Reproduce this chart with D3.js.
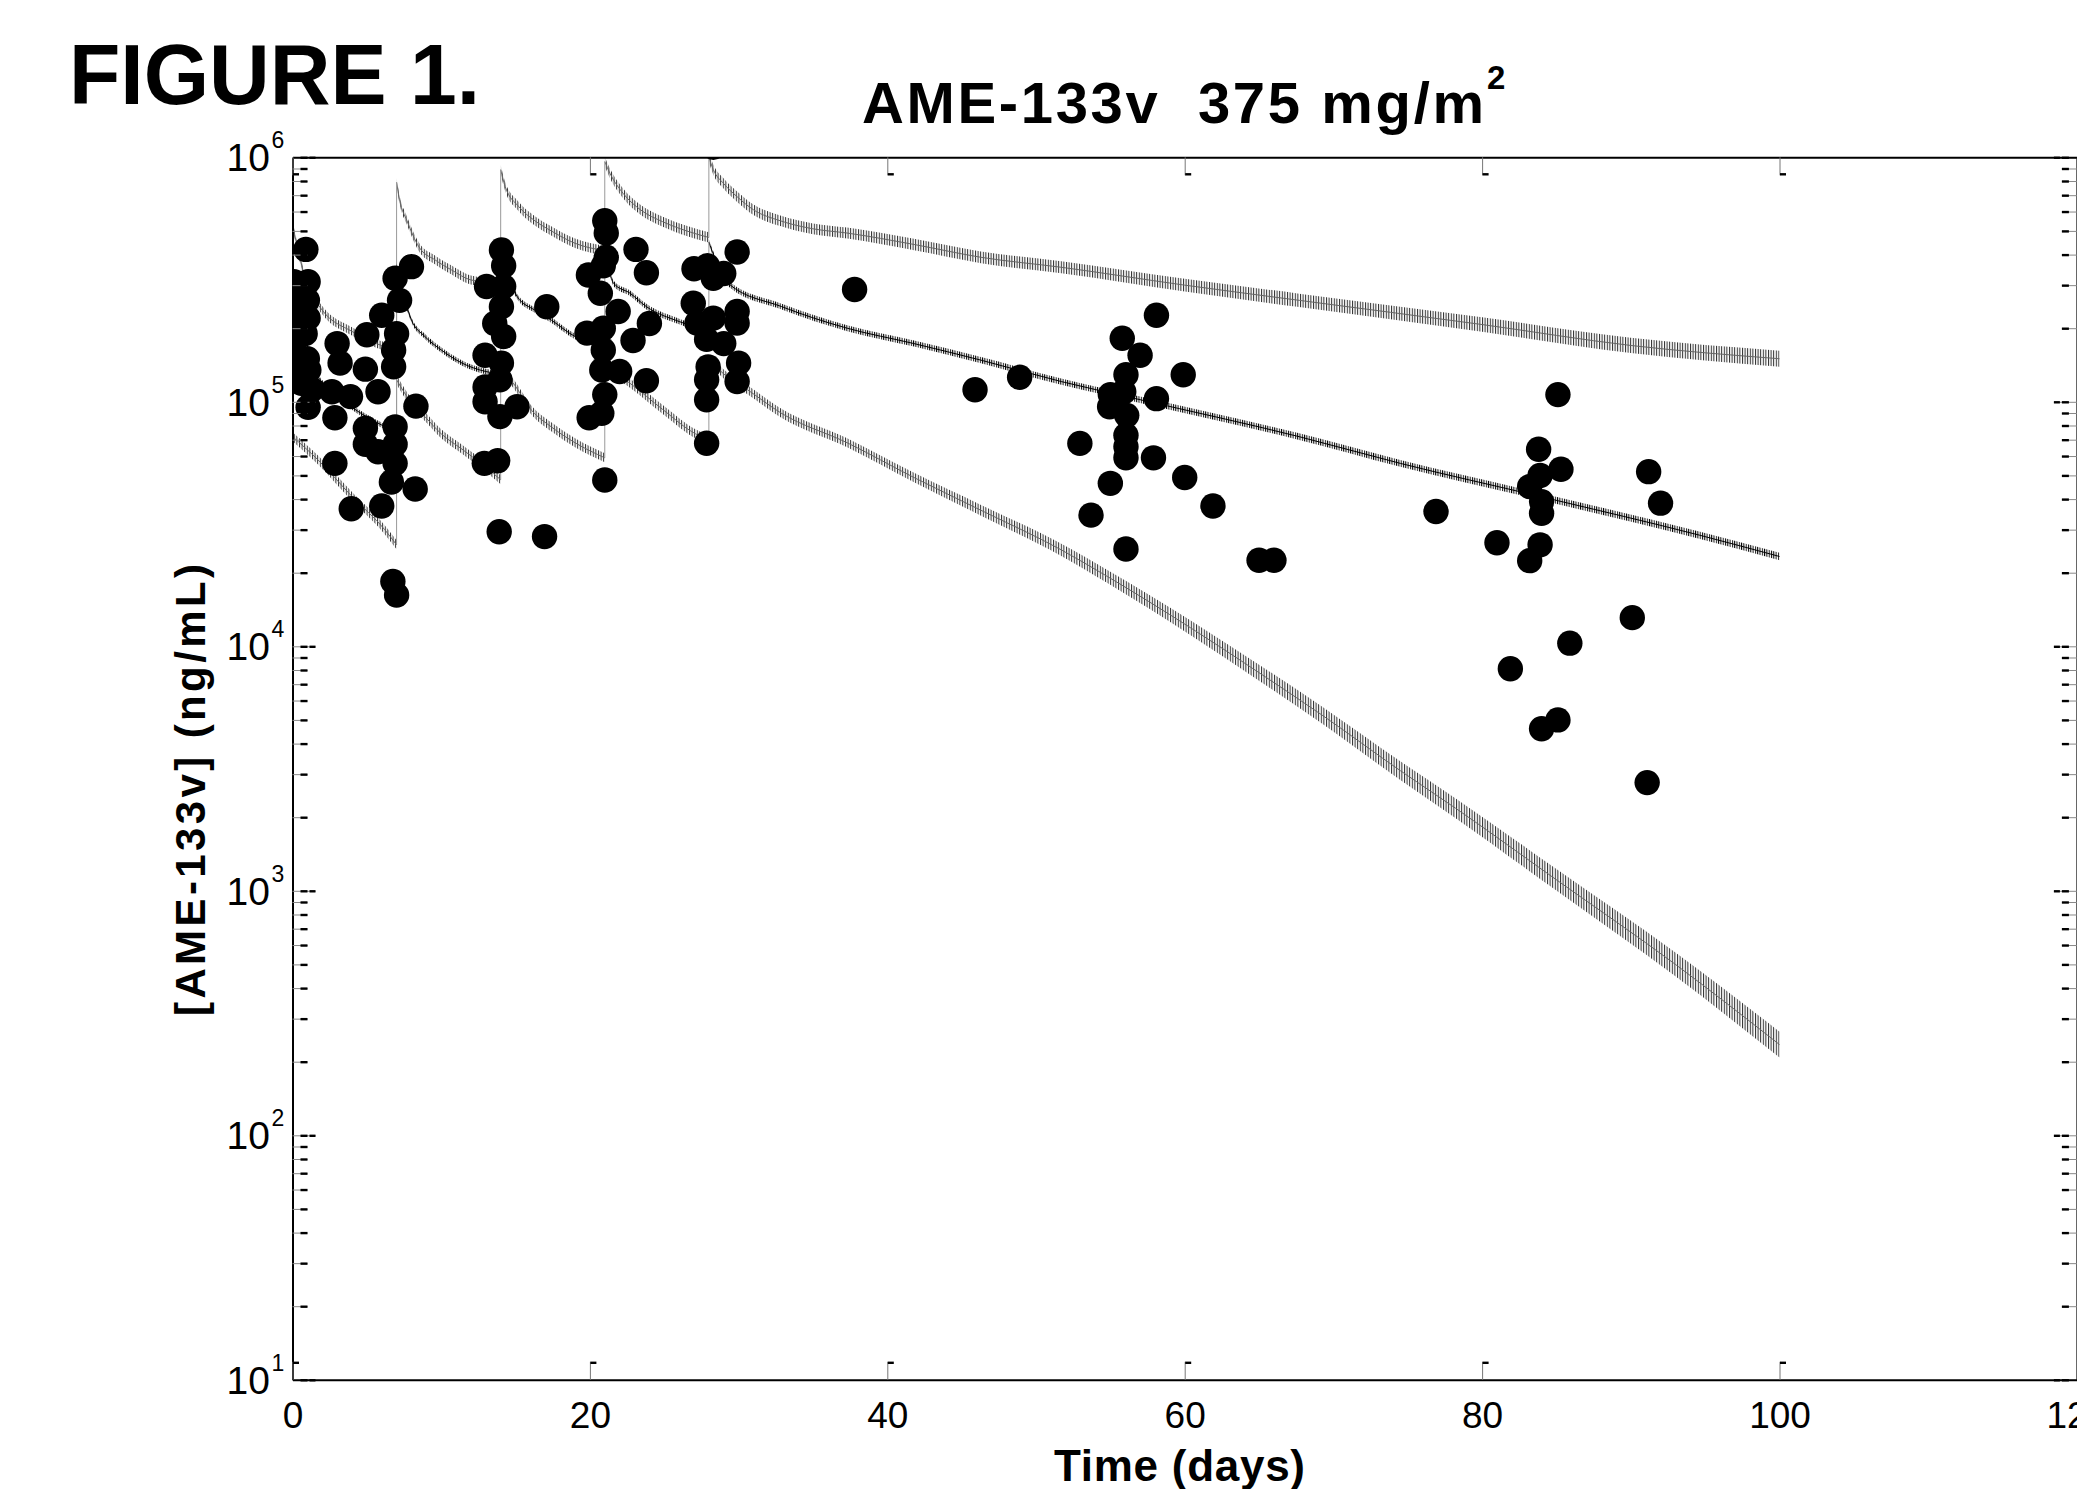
<!DOCTYPE html>
<html>
<head>
<meta charset="utf-8">
<script src="https://cdn.jsdelivr.net/npm/d3@7"></script>
<style>
  html, body { margin: 0; padding: 0; background: #fff; overflow: hidden; }
  svg { display: block; font-family: "Liberation Sans", Arial, sans-serif; }
</style>
</head>
<body>
<div id="chart"></div>
<script>
// observed concentrations (day, ng/mL)
const obsDays = [
  0.9, 0.1, 1.05, 0.0, 1.0, 0.1, 1.05, 0.0, 0.85, 0.1, 1.0, 0.2, 1.1, 0.6, 1.3, 1.05,
  3.0, 3.2, 2.65, 3.9, 2.85, 4.9, 5.0, 5.75, 6.0, 2.85, 3.95, 6.0, 4.9, 4.9, 5.75,
  6.9, 8.0, 7.2, 7.0, 6.8, 6.8, 6.9, 6.9, 6.9, 6.65, 8.25, 8.3, 6.75, 7.0,
  14.05, 14.2, 13.05, 14.2, 14.05, 13.6, 14.2, 12.95, 14.05, 13.95, 12.95, 12.95, 13.95, 15.1, 12.9, 13.8, 13.9, 16.95, 17.1,
  21.0, 21.1, 23.1, 23.8, 21.1, 19.9, 20.9, 20.7, 21.9, 24.0, 19.8, 20.9, 22.9, 20.9, 22.0, 20.8, 23.8, 21.0, 20.8, 19.95, 21.0,
  28.3, 29.9, 27.0, 27.9, 28.3, 29.0, 26.95, 27.2, 28.3, 29.9, 29.9, 27.85, 29.0, 27.95, 30.0, 27.85, 29.9, 27.85, 27.85,
  37.8, 45.9, 48.9,
  58.1, 55.8, 57.0, 56.05, 59.9, 55.0, 55.9, 54.95, 56.1, 58.1, 56.05, 56.05, 56.05, 52.95, 57.9, 55.0, 60.0, 61.9, 53.7, 56.05, 65.0, 66.0,
  85.1, 83.8, 85.3, 83.9, 83.2, 84.0, 84.0, 76.9, 91.2, 92.0, 81.0, 83.9, 83.2, 90.1, 85.9, 81.9, 85.1, 84.0, 91.1
];
const obsConc = [
  4.2e5, 3.1e5, 3.1e5, 2.7e5, 2.6e5, 2.3e5, 2.2e5, 1.95e5, 1.9e5, 1.63e5, 1.5e5, 1.39e5, 1.35e5, 1.19e5, 1.12e5, 9.5e4,
  1.73e5, 1.44e5, 1.1e5, 1.05e5, 8.6e4, 1.36e5, 1.88e5, 1.1e5, 2.26e5, 5.6e4, 3.65e4, 3.75e4, 7.8e4, 6.7e4, 6.25e4,
  3.2e5, 3.57e5, 2.6e5, 1.9e5, 1.63e5, 1.39e5, 7.9e4, 6.7e4, 5.6e4, 4.7e4, 4.4e4, 9.6e4, 1.84e4, 1.62e4,
  4.18e5, 3.6e5, 2.96e5, 2.96e5, 2.45e5, 2.09e5, 1.85e5, 1.55e5, 1.44e5, 1.23e5, 1.15e5, 1.0e5, 8.7e4, 9.55e4, 5.6e4, 5.74e4, 2.94e4, 2.81e4, 2.45e5,
  5.5e5, 4.9e5, 4.2e5, 3.37e5, 3.9e5, 3.3e5, 3.6e5, 2.78e5, 2.34e5, 2.09e5, 1.91e5, 2.0e5, 1.78e5, 1.63e5, 1.33e5, 1.35e5, 1.22e5, 1.07e5, 8.98e4, 8.6e4, 4.79e4,
  1.1e6, 4.1e5, 3.5e5, 3.6e5, 3.2e5, 3.35e5, 2.53e5, 2.1e5, 2.2e5, 2.34e5, 2.1e5, 1.8e5, 1.73e5, 1.39e5, 1.44e5, 1.23e5, 1.21e5, 1.02e5, 6.77e4,
  2.88e5, 1.12e5, 1.26e5,
  2.26e5, 1.82e5, 1.55e5, 1.29e5, 1.29e5, 1.07e5, 1.1e5, 9.55e4, 8.8e4, 1.03e5, 7.3e4, 6.55e4, 5.9e4, 6.76e4, 5.9e4, 4.64e4, 4.9e4, 3.75e4, 3.44e4, 2.5e4, 2.25e4, 2.25e4,
  1.07e5, 6.4e4, 5.3e4, 5.0e4, 4.5e4, 3.9e4, 3.5e4, 3.56e4, 5.18e4, 3.85e4, 2.65e4, 2.6e4, 2.24e4, 1.31e4, 1.03e4, 8.1e3, 5.0e3, 4.6e3, 2.77e3
];

// simulated percentiles; a repeated day marks a new dose
const upperDays = [0, 1, 2, 4, 6, 7,
  7, 7.2, 7.7, 8.5, 9.6, 10.7, 12, 14,
  14, 14.3, 15.2, 16.3, 17.4, 19, 21,
  21, 21.35, 22.25, 23.4, 24.9, 26.5, 28,
  28, 28.3, 29, 29.9, 31, 32.8, 35, 37.3, 41.8, 46.3, 51.7, 60, 67.7, 80, 90, 100];
const upperConc = [5.3e5, 3.0e5, 2.37e5, 1.94e5, 1.70e5, 1.66e5,
  7.9e5, 6.7e5, 5.5e5, 4.3e5, 3.8e5, 3.46e5, 3.15e5, 3.05e5,
  8.9e5, 7.6e5, 6.3e5, 5.5e5, 5.0e5, 4.45e5, 4.15e5,
  9.6e5, 8.6e5, 7.1e5, 6.1e5, 5.45e5, 5.0e5, 4.7e5,
  1.0e6, 8.9e5, 7.8e5, 6.9e5, 6.1e5, 5.5e5, 5.1e5, 4.9e5, 4.4e5, 3.9e5, 3.55e5, 3.0e5, 2.6e5, 2.07e5, 1.7e5, 1.5e5];

const medianDays = [0, 1, 2, 4, 7,
  7, 8, 8.9, 10, 11.4, 13, 14,
  14, 15.1, 16.3, 17.4, 19, 21,
  21, 21.6, 22.7, 23.8, 26, 28,
  28, 29.3, 32.9, 37.3, 41.8, 46.3, 51.7, 57, 67.7, 74.5, 83.9, 94.6, 100];
const medianConc = [2.4e5, 1.5e5, 1.2e5, 9.5e4, 7.5e4,
  3.6e5, 2.16e5, 1.85e5, 1.63e5, 1.44e5, 1.33e5, 1.3e5,
  4.0e5, 2.7e5, 2.37e5, 2.16e5, 1.85e5, 1.72e5,
  4.3e5, 3.05e5, 2.78e5, 2.45e5, 2.13e5, 1.95e5,
  4.5e5, 3.05e5, 2.45e5, 2.0e5, 1.73e5, 1.48e5, 1.21e5, 1.02e5, 7.2e4, 5.6e4, 4.1e4, 2.85e4, 2.33e4];

const lowerDays = [0, 1.7, 4, 6.2, 7,
  7, 8, 8.9, 10, 11.4, 13, 14,
  14, 14.8, 16.1, 17.4, 19, 21,
  21, 22.7, 24.9, 27.1, 28,
  28, 29, 30.6, 32.85, 37.3, 41.8, 46.3, 51.7, 54.8, 60.4, 65, 69.3, 74.5, 78.2, 84.9, 93, 100];
const lowerConc = [7.2e4, 5.8e4, 4.1e4, 3.0e4, 2.6e4,
  1.23e5, 9.9e4, 8.7e4, 7.4e4, 6.4e4, 5.4e4, 4.8e4,
  1.35e5, 1.2e5, 9.2e4, 7.9e4, 6.8e4, 5.9e4,
  1.4e5, 1.19e5, 9.3e4, 7.4e4, 7.0e4,
  1.5e5, 1.3e5, 1.12e5, 9.0e4, 6.8e4, 4.9e4, 3.6e4, 2.48e4, 1.93e4, 1.19e4, 7.8e3, 5.2e3, 3.1e3, 2.18e3, 1.12e3, 5.0e2, 2.35e2];

const xTicks = [0, 20, 40, 60, 80, 100, 120];
const yDecades = [1, 2, 3, 4, 5, 6];

const W = 2077, H = 1489;

const svg = d3.select("#chart").append("svg")
  .attr("width", W).attr("height", H);

const x = d3.scaleLinear().domain([0, 120]).range([292.5, 2076.9]);
const y = d3.scaleLog().domain([10, 1e6]).range([1379.8, 157.3]);

const defs = svg.append("defs");
defs.append("clipPath").attr("id", "plotClip")
  .append("rect")
  .attr("x", x(0)).attr("y", y(1e6))
  .attr("width", x(120) - x(0)).attr("height", y(10) - y(1e6));

// vertical hatch used to fake the noisy simulation traces
function hatch(id, step, color) {
  const p = defs.append("pattern").attr("id", id)
    .attr("patternUnits", "userSpaceOnUse")
    .attr("width", step).attr("height", 4);
  p.append("rect").attr("x", 0).attr("y", 0)
    .attr("width", 1).attr("height", 4).attr("fill", color);
}
hatch("hatchGray", 2.6, "#2a2a2a");
hatch("hatchBlack", 2.3, "#000");

function doses(days, conc) {
  const segs = [];
  let cur = [];
  days.forEach((d, i) => {
    if (i > 0 && d === days[i - 1]) { segs.push(cur); cur = []; }
    cur.push([d, conc[i]]);
  });
  segs.push(cur);
  return segs;
}

const curves = [
  {days: upperDays, conc: upperConc, fill: "url(#hatchGray)", line: "#666", hw: d => 4 + d * 0.04},
  {days: lowerDays, conc: lowerConc, fill: "url(#hatchGray)", line: "#666", hw: d => 4.5 + Math.max(0, d - 40) * 0.14},
  {days: medianDays, conc: medianConc, fill: "url(#hatchBlack)", line: "#000", hw: d => 2.5 + d * 0.012}
];

const plot = svg.append("g").attr("clip-path", "url(#plotClip)");

curves.forEach(c => {
  const segs = doses(c.days, c.conc);

  const band = d3.area()
    .x(d => x(d[0]))
    .y0(d => y(d[1]) - c.hw(d[0]))
    .y1(d => y(d[1]) + c.hw(d[0]))
    .curve(d3.curveMonotoneX);
  const line = d3.line()
    .x(d => x(d[0]))
    .y(d => y(d[1]))
    .curve(d3.curveMonotoneX);

  plot.append("g").selectAll("path.band")
    .data(segs).join("path")
    .attr("class", "band")
    .attr("d", band)
    .attr("fill", c.fill);

  plot.append("g").selectAll("path.trace")
    .data(segs).join("path")
    .attr("class", "trace")
    .attr("d", line)
    .attr("fill", "none")
    .attr("stroke", c.line)
    .attr("stroke-width", 1);

  // jump at each dose
  const jumps = segs.slice(1).map((s, i) => [segs[i][segs[i].length - 1], s[0]]);
  plot.append("g").selectAll("line")
    .data(jumps).join("line")
    .attr("x1", d => x(d[0][0])).attr("x2", d => x(d[1][0]))
    .attr("y1", d => y(d[0][1])).attr("y2", d => y(d[1][1]))
    .attr("stroke", "#999").attr("stroke-width", 1);
});

// observed data
plot.append("g").selectAll("circle")
  .data(obsDays.map((d, i) => [d, obsConc[i]]))
  .join("circle")
  .attr("cx", d => x(d[0]))
  .attr("cy", d => y(d[1]))
  .attr("r", 12.7)
  .attr("fill", "#000");

// axes
const isMajor = d => Math.abs(Math.log10(d) - Math.round(Math.log10(d))) < 1e-9;

const gL = svg.append("g")
  .attr("transform", `translate(${x(0)},0)`)
  .call(d3.axisLeft(y).tickValues(y.ticks()).tickSizeInner(-15).tickSizeOuter(0).tickFormat(""));
const gR = svg.append("g")
  .attr("transform", `translate(${x(120)},0)`)
  .call(d3.axisRight(y).tickValues(y.ticks()).tickSizeInner(-15).tickSizeOuter(0).tickFormat(""));

[[gL, 1], [gR, -1]].forEach(([g, s]) => {
  g.select(".domain").attr("stroke", "#000").attr("stroke-width", 2);
  g.selectAll(".tick line")
    .attr("stroke", "#888").attr("stroke-width", 1)
    .attr("x2", d => s * (isMajor(d) ? 23 : 15));
  g.selectAll(".tick").append("line")
    .attr("x1", s * 8).attr("x2", s * 15)
    .attr("stroke", "#000").attr("stroke-width", 2.4);
  g.selectAll(".tick").filter(isMajor).append("line")
    .attr("x1", s * 17).attr("x2", s * 23)
    .attr("stroke", "#000").attr("stroke-width", 2.4);
});

const gB = svg.append("g")
  .attr("transform", `translate(0,${y(10)})`)
  .call(d3.axisBottom(x).tickValues(xTicks).tickSizeInner(-18).tickSizeOuter(0).tickFormat(d3.format("d")));
const gT = svg.append("g")
  .attr("transform", `translate(0,${y(1e6)})`)
  .call(d3.axisTop(x).tickValues(xTicks).tickSizeInner(-18).tickSizeOuter(0).tickFormat(""));

[[gB, -1], [gT, 1]].forEach(([g, s]) => {
  g.select(".domain").attr("stroke", "#000").attr("stroke-width", 2);
  g.selectAll(".tick line").attr("stroke", "#777").attr("stroke-width", 1);
  g.selectAll(".tick").append("line")
    .attr("x1", 0).attr("x2", 6)
    .attr("y1", s * 17).attr("y2", s * 17)
    .attr("stroke", "#000").attr("stroke-width", 2.4);
});

gB.attr("font-family", null).attr("font-size", null);
gB.selectAll(".tick text")
  .attr("y", 48.5).attr("dy", null)
  .attr("font-size", 37)
  .attr("fill", "#000");

// y tick labels as powers of ten
const yLab = svg.append("g").attr("fill", "#000");
yLab.selectAll("text.base")
  .data(yDecades).join("text")
  .attr("class", "base")
  .attr("x", 270).attr("y", k => y(10 ** k) + 14)
  .attr("text-anchor", "end")
  .attr("font-size", 39)
  .text("10");
yLab.selectAll("text.exp")
  .data(yDecades).join("text")
  .attr("class", "exp")
  .attr("x", 271.5).attr("y", k => y(10 ** k) - 9)
  .attr("font-size", 23)
  .text(k => k);

// titles and axis labels
svg.append("text")
  .attr("x", 69).attr("y", 103.5)
  .attr("font-size", 86).attr("font-weight", "bold")
  .attr("textLength", 411).attr("lengthAdjust", "spacingAndGlyphs")
  .text("FIGURE 1.");

svg.append("text")
  .attr("x", 862).attr("y", 123.3)
  .attr("font-size", 58).attr("font-weight", "bold")
  .style("white-space", "pre")
  .attr("textLength", 622)
  .text("AME-133v  375 mg/m");
svg.append("text")
  .attr("x", 1487).attr("y", 88.5)
  .attr("font-size", 33).attr("font-weight", "bold")
  .text("2");

svg.append("text")
  .attr("x", 1054).attr("y", 1481)
  .attr("font-size", 44).attr("font-weight", "bold")
  .attr("textLength", 251)
  .text("Time (days)");

svg.append("text")
  .attr("transform", "translate(205,790) rotate(-90)")
  .attr("text-anchor", "middle")
  .attr("font-size", 42).attr("font-weight", "bold")
  .attr("textLength", 452)
  .text("[AME-133v] (ng/mL)");
</script>
</body>
</html>
